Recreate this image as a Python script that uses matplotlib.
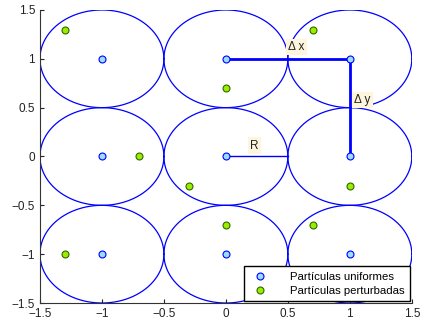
import numpy as np
import matplotlib.pyplot as plt

plt.rcParams["font.family"] = ["Liberation Sans", "DejaVu Sans"]

# grid of uniform particles
uniform_x = [-1, 0, 1, -1, 0, 1, -1, 0, 1]
uniform_y = [1, 1, 1, 0, 0, 0, -1, -1, -1]

# perturbed particles
perturbed_x = [-1.3, 0.7, 0.0, -0.7, -0.3, 1.0, -1.3, 0.0, 0.7]
perturbed_y = [1.3, 1.3, 0.7, 0.0, -0.3, -0.3, -1.0, -0.7, -0.7]

radius = 0.5

fig = plt.figure(figsize=(4.25, 3.22), dpi=100)
ax = fig.add_axes([0.094, 0.059, 0.875, 0.91])

theta = np.linspace(0, 2 * np.pi, 200)
for cx, cy in zip(uniform_x, uniform_y):
    ax.plot(cx + radius * np.cos(theta), cy + radius * np.sin(theta),
            color="blue", linewidth=0.9)

# spacing and radius annotations
ax.plot([0, 1], [1, 1], color="blue", linewidth=2)
ax.plot([1, 1], [1, 0], color="blue", linewidth=2)
ax.plot([0, 0.5], [0, 0], color="blue", linewidth=1)

box = dict(facecolor="#fdf6dc", edgecolor="none", pad=1.5)
ax.text(0.57, 1.06, "Δ x", fontsize=8.5, ha="center", va="bottom",
        color="#222222", bbox=box)
ax.text(1.10, 0.52, "Δ y", fontsize=8.5, ha="center", va="bottom",
        color="#222222", bbox=box)
ax.text(0.23, 0.05, "R", fontsize=8.5, ha="center", va="bottom",
        color="#222222", bbox=box)

ax.plot(uniform_x, uniform_y, "o", markersize=5, markerfacecolor="#99ddff",
        markeredgecolor="blue", markeredgewidth=0.8,
        label="Partículas uniformes")
ax.plot(perturbed_x, perturbed_y, "o", markersize=5,
        markerfacecolor="#99ee00", markeredgecolor="#336600",
        markeredgewidth=0.8, label="Partículas perturbadas")

ax.set_xlim(-1.5, 1.5)
ax.set_ylim(-1.5, 1.5)
ticks = [-1.5, -1, -0.5, 0, 0.5, 1, 1.5]
tick_labels = ["−1.5", "−1", "−0.5", "0", "0.5", "1", "1.5"]
ax.set_xticks(ticks)
ax.set_yticks(ticks)
ax.set_xticklabels(tick_labels)
ax.set_yticklabels(tick_labels)
ax.tick_params(direction="in", labelsize=8.5, length=3, colors="#222222")
ax.spines["top"].set_visible(False)
ax.spines["right"].set_visible(False)
ax.spines["left"].set_color("#333333")
ax.spines["bottom"].set_color("#333333")

leg = ax.legend(loc="lower right", fontsize=8.2, fancybox=False,
                framealpha=1, borderaxespad=0.2, handletextpad=1.6,
                borderpad=0.45, labelspacing=0.35)
leg.get_frame().set_edgecolor("black")
leg.get_frame().set_linewidth(1)

fig.savefig("out.png", dpi=100)
